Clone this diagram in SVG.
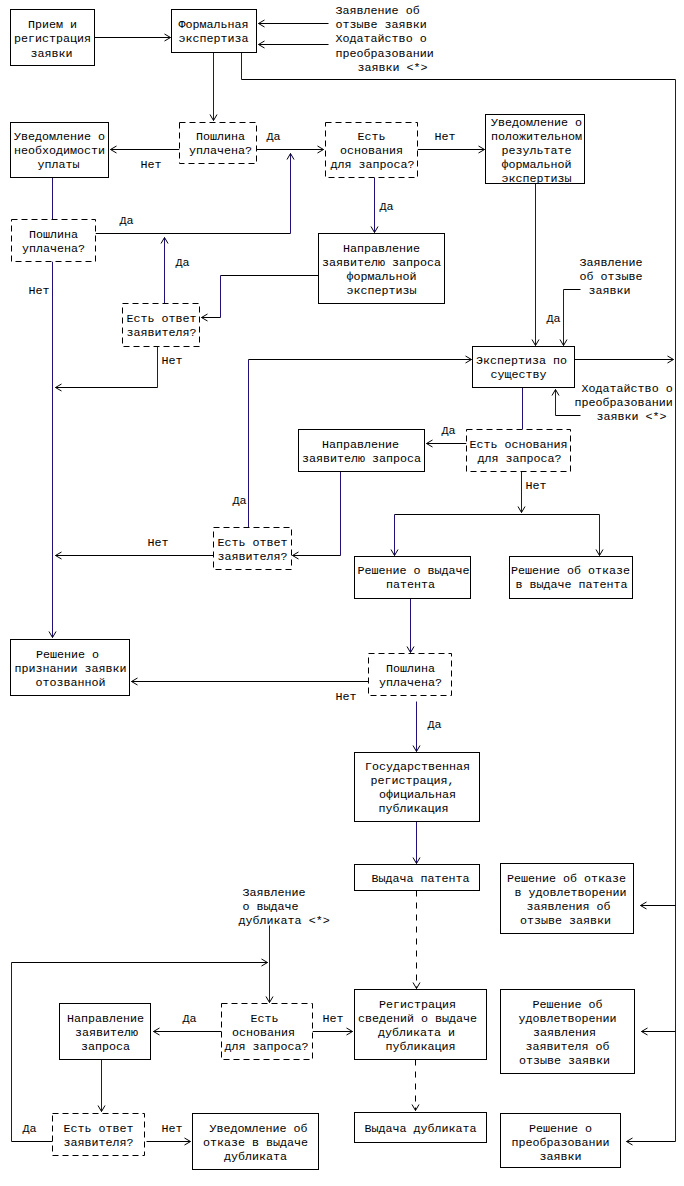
<svg xmlns="http://www.w3.org/2000/svg" width="684" height="1186" viewBox="0 0 684 1186">
<style>
text{font-family:"Liberation Mono","DejaVu Sans Mono",monospace;font-size:11.7px;fill:#000}
.c{text-anchor:middle}
.b{fill:#fff;stroke:#000;stroke-width:1}
.d{fill:#fff;stroke:#000;stroke-width:1;stroke-dasharray:6 4}
.h{fill:none;stroke:#000;stroke-width:1}
.v{fill:none;stroke:#22107a;stroke-width:1}
.dv{fill:none;stroke:#000;stroke-width:1;stroke-dasharray:6 6}
</style>
<defs>
<marker id="a" markerUnits="userSpaceOnUse" markerWidth="8" markerHeight="9" viewBox="0 0 8 9" refX="7" refY="4.5" orient="auto">
<path d="M1,1 L7,4.5 L1,8" fill="none" stroke="#000" stroke-width="1"/>
</marker>
</defs>
<rect width="684" height="1186" fill="#fff"/>
<g transform="translate(0.5,0.5)">
<g id="connectors">
<path class="h" d="M94,37 H170" marker-end="url(#a)"/>
<path class="h" d="M328,23 H258" marker-end="url(#a)"/>
<path class="h" d="M328,44 H258" marker-end="url(#a)"/>
<path class="v" d="M213,52 V120" marker-end="url(#a)"/>
<path class="v" d="M241,52 V79"/>
<path class="h" d="M241,79 H675"/>
<path class="v" d="M675,79 V1141"/>
<path class="h" d="M675,1141 H626" marker-end="url(#a)"/>
<path class="h" d="M675,905 H640" marker-end="url(#a)"/>
<path class="h" d="M675,1031 H641" marker-end="url(#a)"/>
<path class="h" d="M179,149 H110" marker-end="url(#a)"/>
<path class="h" d="M256,149 H323" marker-end="url(#a)"/>
<path class="v" d="M52,177 V219"/>
<path class="h" d="M95,233 H290"/>
<path class="v" d="M290,233 V153" marker-end="url(#a)"/>
<path class="v" d="M52,261 V637" marker-end="url(#a)"/>
<path class="v" d="M164,303 V237" marker-end="url(#a)"/>
<path class="h" d="M318,275 H220"/>
<path class="v" d="M220,275 V317"/>
<path class="h" d="M220,317 H201" marker-end="url(#a)"/>
<path class="v" d="M157,346 V387"/>
<path class="h" d="M157,387 H55" marker-end="url(#a)"/>
<path class="h" d="M417,149 H484" marker-end="url(#a)"/>
<path class="v" d="M374,177 V232" marker-end="url(#a)"/>
<path class="v" d="M535,183 V345" marker-end="url(#a)"/>
<path class="h" d="M580,289 H563"/>
<path class="v" d="M563,289 V345" marker-end="url(#a)"/>
<path class="h" d="M574,359 H673" marker-end="url(#a)"/>
<path class="h" d="M580,415 H555"/>
<path class="v" d="M555,415 V389" marker-end="url(#a)"/>
<path class="v" d="M522,387 V429"/>
<path class="h" d="M466,443 H426" marker-end="url(#a)"/>
<path class="v" d="M340,471 V555"/>
<path class="h" d="M340,555 H292" marker-end="url(#a)"/>
<path class="v" d="M248,527 V359"/>
<path class="h" d="M248,359 H471" marker-end="url(#a)"/>
<path class="h" d="M213,555 H55" marker-end="url(#a)"/>
<path class="v" d="M521,471 V512" marker-end="url(#a)"/>
<path class="h" d="M394,514 H599"/>
<path class="v" d="M394,514 V555" marker-end="url(#a)"/>
<path class="v" d="M599,514 V555" marker-end="url(#a)"/>
<path class="v" d="M410,598 V652" marker-end="url(#a)"/>
<path class="h" d="M368,681 H131" marker-end="url(#a)"/>
<path class="v" d="M416,701 V751" marker-end="url(#a)"/>
<path class="v" d="M416,821 V863" marker-end="url(#a)"/>
<path class="dv" d="M416,890 V988" marker-end="url(#a)"/>
<path class="v" d="M269,925 V1002" marker-end="url(#a)"/>
<path class="h" d="M52,1141 H11"/>
<path class="v" d="M11,1141 V962"/>
<path class="h" d="M11,962 H267" marker-end="url(#a)"/>
<path class="h" d="M221,1031 H153" marker-end="url(#a)"/>
<path class="h" d="M312,1031 H352" marker-end="url(#a)"/>
<path class="v" d="M101,1059 V1111" marker-end="url(#a)"/>
<path class="h" d="M146,1141 H190" marker-end="url(#a)"/>
<path class="dv" d="M415,1059 V1110" marker-end="url(#a)"/>
</g>

<g id="labels">
<text x="335" y="13">Заявление об</text>
<text x="335" y="27">отзыве заявки</text>
<text x="335" y="41">Ходатайство о</text>
<text x="335" y="56">преобразовании</text>
<text x="357" y="70">заявки &lt;*&gt;</text>
<text x="579" y="265">Заявление</text>
<text x="579" y="279">об отзыве</text>
<text x="588" y="293">заявки</text>
<text x="581" y="391">Ходатайство о</text>
<text x="574" y="405">преобразовании</text>
<text x="596" y="419">заявки &lt;*&gt;</text>
<text x="242" y="895">Заявление</text>
<text x="242" y="909">о выдаче</text>
<text x="238" y="923">дубликата &lt;*&gt;</text>
<text x="266" y="139">Да</text>
<text x="140" y="167">Нет</text>
<text x="434" y="139">Нет</text>
<text x="379" y="209">Да</text>
<text x="119" y="223">Да</text>
<text x="175" y="265">Да</text>
<text x="28" y="293">Нет</text>
<text x="161" y="363">Нет</text>
<text x="546" y="321">Да</text>
<text x="441" y="433">Да</text>
<text x="525" y="488">Нет</text>
<text x="232" y="503">Да</text>
<text x="147" y="545">Нет</text>
<text x="335" y="699">Нет</text>
<text x="427" y="727">Да</text>
<text x="182" y="1021">Да</text>
<text x="322" y="1021">Нет</text>
<text x="22" y="1131">Да</text>
<text x="161" y="1131">Нет</text>
</g>

<g id="n1"><rect class="b" x="10" y="9" width="84" height="56"/>
<text class="c" x="52" y="27">Прием и</text><text class="c" x="52" y="41">регистрация</text><text class="c" x="51" y="56">заявки</text></g>

<g id="n2"><rect class="b" x="171" y="9" width="85" height="43"/>
<text class="c" x="213" y="27">Формальная</text><text class="c" x="213" y="41">экспертиза</text></g>

<g id="n3"><rect class="b" x="10" y="122" width="98" height="55"/>
<text class="c" x="59" y="139">Уведомление о</text><text class="c" x="59" y="153">необходимости</text><text class="c" x="58" y="167">уплаты</text></g>

<g id="n4"><rect class="d" x="179" y="122" width="77" height="41"/>
<text class="c" x="220" y="139">Пошлина</text><text class="c" x="220" y="153">уплачена?</text></g>

<g id="n5"><rect class="d" x="325" y="122" width="92" height="55"/>
<text class="c" x="371" y="139">Есть</text><text class="c" x="371" y="153">основания</text><text class="c" x="372" y="167">для запроса?</text></g>

<g id="n6"><rect class="b" x="485" y="114" width="99" height="69"/>
<text class="c" x="536" y="125">Уведомление о</text><text class="c" x="536" y="139">положительном</text><text class="c" x="536" y="153">результате</text><text class="c" x="536" y="167">формальной</text><text class="c" x="536" y="181">экспертизы</text></g>

<g id="n7"><rect class="d" x="11" y="219" width="84" height="42"/>
<text class="c" x="53" y="237">Пошлина</text><text class="c" x="53" y="251">уплачена?</text></g>

<g id="n8"><rect class="b" x="318" y="233" width="126" height="70"/>
<text class="c" x="381" y="251">Направление</text><text class="c" x="381" y="265">заявителю запроса</text><text class="c" x="381" y="279">формальной</text><text class="c" x="381" y="293">экспертизы</text></g>

<g id="n9"><rect class="d" x="122" y="303" width="77" height="43"/>
<text class="c" x="161" y="321">Есть ответ</text><text class="c" x="161" y="335">заявителя?</text></g>

<g id="n10"><rect class="b" x="472" y="346" width="102" height="41"/>
<text class="c" x="521" y="363">Экспертиза по</text><text class="c" x="518" y="377">существу</text></g>

<g id="n11"><rect class="d" x="466" y="429" width="104" height="42"/>
<text class="c" x="518" y="447">Есть основания</text><text class="c" x="519" y="461">для запроса?</text></g>

<g id="n12"><rect class="b" x="298" y="429" width="126" height="42"/>
<text class="c" x="360" y="447">Направление</text><text class="c" x="361" y="461">заявителю запроса</text></g>

<g id="n13"><rect class="d" x="213" y="527" width="78" height="42"/>
<text class="c" x="252" y="545">Есть ответ</text><text class="c" x="252" y="559">заявителя?</text></g>

<g id="n14"><rect class="b" x="354" y="556" width="116" height="42"/>
<text class="c" x="413" y="573">Решение о выдаче</text><text class="c" x="410" y="587">патента</text></g>

<g id="n15"><rect class="b" x="509" y="556" width="123" height="42"/>
<text class="c" x="570" y="573">Решение об отказе</text><text class="c" x="571" y="587">в выдаче патента</text></g>

<g id="n16"><rect class="b" x="10" y="639" width="119" height="56"/>
<text class="c" x="67" y="657">Решение о</text><text class="c" x="70" y="671">признании заявки</text><text class="c" x="70" y="685">отозванной</text></g>

<g id="n17"><rect class="d" x="368" y="653" width="83" height="42"/>
<text class="c" x="410" y="671">Пошлина</text><text class="c" x="410" y="685">уплачена?</text></g>

<g id="n18"><rect class="b" x="354" y="752" width="125" height="69"/>
<text class="c" x="417" y="769">Государственная</text><text class="c" x="412" y="783">регистрация,</text><text class="c" x="417" y="797">официальная</text><text class="c" x="413" y="811">публикация</text></g>

<g id="n19"><rect class="b" x="354" y="864" width="125" height="26"/>
<text class="c" x="420" y="881">Выдача патента</text></g>

<g id="n20"><rect class="b" x="500" y="863" width="133" height="70"/>
<text class="c" x="566" y="881">Решение об отказе</text><text class="c" x="570" y="895">в удовлетворении</text><text class="c" x="568" y="909">заявления об</text><text class="c" x="565" y="923">отзыве заявки</text></g>

<g id="n21"><rect class="d" x="221" y="1003" width="91" height="56"/>
<text class="c" x="264" y="1021">Есть</text><text class="c" x="263" y="1035">основания</text><text class="c" x="266" y="1049">для запроса?</text></g>

<g id="n22"><rect class="b" x="59" y="1003" width="91" height="56"/>
<text class="c" x="105" y="1021">Направление</text><text class="c" x="106" y="1035">заявителю</text><text class="c" x="105" y="1049">запроса</text></g>

<g id="n23"><rect class="b" x="354" y="989" width="132" height="70"/>
<text class="c" x="417" y="1007">Регистрация</text><text class="c" x="417" y="1021">сведений о выдаче</text><text class="c" x="416" y="1035">дубликата и</text><text class="c" x="420" y="1049">публикация</text></g>

<g id="n24"><rect class="b" x="500" y="989" width="134" height="84"/>
<text class="c" x="567" y="1007">Решение об</text><text class="c" x="567" y="1021">удовлетворении</text><text class="c" x="564" y="1035">заявления</text><text class="c" x="567" y="1049">заявителя об</text><text class="c" x="564" y="1063">отзыве заявки</text></g>

<g id="n25"><rect class="d" x="52" y="1113" width="92" height="42"/>
<text class="c" x="98" y="1131">Есть ответ</text><text class="c" x="98" y="1145">заявителя?</text></g>

<g id="n26"><rect class="b" x="192" y="1113" width="126" height="56"/>
<text class="c" x="258" y="1131">Уведомление об</text><text class="c" x="255" y="1145">отказе в выдаче</text><text class="c" x="255" y="1159">дубликата</text></g>

<g id="n27"><rect class="b" x="354" y="1112" width="132" height="30"/>
<text class="c" x="420" y="1131">Выдача дубликата</text></g>

<g id="n28"><rect class="b" x="500" y="1113" width="120" height="54"/>
<text class="c" x="560" y="1131">Решение о</text><text class="c" x="560" y="1145">преобразовании</text><text class="c" x="560" y="1159">заявки</text></g>
</g>
</svg>
